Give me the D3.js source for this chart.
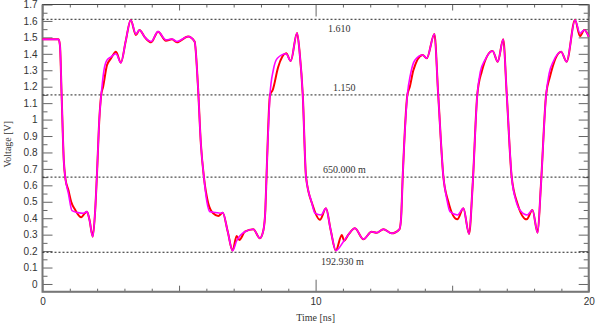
<!DOCTYPE html>
<html>
<head>
<meta charset="utf-8">
<script src="https://cdn.jsdelivr.net/npm/d3@7"></script>
<style>
  body { margin: 0; background: #fff; }
  svg { display: block; font-family: "Liberation Serif", "DejaVu Serif", serif; }
  .axis text { font-size: 10px; fill: #333; }
  .axis line { stroke: #666; }
  .label { font-size: 10px; fill: #333; }
</style>
</head>
<body>
<svg id="chart" width="596" height="325"></svg>
<script>
// time [ns] and voltage [V]
const redTime = [0, 0.59, 0.64, 0.70, 0.78, 0.84, 0.95, 1.05, 1.20, 1.42, 1.55, 1.63, 1.72, 1.84, 1.93, 2.0, 2.08, 2.15, 2.22, 2.36, 2.50, 2.69, 2.87, 3.05, 3.23, 3.42, 3.55, 3.75, 3.98, 4.23, 4.52, 4.74, 4.92, 5.33, 5.57, 5.69, 5.80, 5.91, 6.07, 6.25, 6.44, 6.60, 6.78, 6.96, 7.11, 7.21, 7.41, 7.72, 7.96, 8.09, 8.16, 8.21, 8.33, 8.43, 8.63, 8.92, 9.09, 9.32, 9.42, 9.53, 9.65, 9.89, 10.16, 10.38, 10.55, 10.74, 10.96, 11.04, 11.20, 11.44, 11.75, 12.05, 12.24, 12.48, 12.79, 13.07, 13.13, 13.19, 13.36, 13.45, 13.58, 13.92, 14.07, 14.35, 14.49, 14.68, 14.86, 15.19, 15.41, 15.62, 15.75, 15.92, 16.08, 16.48, 16.67, 16.87, 17.00, 17.18, 17.39, 17.73, 17.94, 18.13, 18.25, 18.44, 18.58, 18.99, 19.19, 19.50, 19.68, 19.84, 20.0]
const redVolt = [1.488, 1.488, 1.45, 1.15, 0.75, 0.64, 0.57, 0.50, 0.45, 0.406, 0.43, 0.44, 0.39, 0.288, 0.45, 0.69, 1.0, 1.15, 1.20, 1.33, 1.37, 1.413, 1.346, 1.48, 1.606, 1.515, 1.545, 1.50, 1.47, 1.535, 1.48, 1.488, 1.47, 1.505, 1.474, 1.21, 0.85, 0.65, 0.49, 0.43, 0.414, 0.434, 0.32, 0.203, 0.292, 0.268, 0.318, 0.333, 0.278, 0.328, 0.45, 0.69, 1.15, 1.18, 1.32, 1.403, 1.356, 1.527, 1.40, 1.15, 0.65, 0.48, 0.39, 0.46, 0.33, 0.203, 0.298, 0.263, 0.30, 0.339, 0.272, 0.318, 0.312, 0.333, 0.308, 0.333, 0.40, 0.653, 1.15, 1.20, 1.30, 1.393, 1.373, 1.52, 1.15, 0.65, 0.50, 0.393, 0.46, 0.304, 0.60, 1.15, 1.29, 1.417, 1.352, 1.488, 1.15, 0.65, 0.49, 0.393, 0.45, 0.312, 0.60, 1.15, 1.26, 1.413, 1.352, 1.606, 1.508, 1.545, 1.505]

const magentaTime = [0, 0.59, 0.64, 0.70, 0.78, 0.84, 0.95, 1.08, 1.30, 1.50, 1.63, 1.72, 1.84, 1.93, 2.0, 2.08, 2.15, 2.25, 2.36, 2.50, 2.69, 2.87, 3.05, 3.23, 3.42, 3.55, 3.75, 3.98, 4.23, 4.52, 4.74, 4.92, 5.33, 5.57, 5.69, 5.80, 5.91, 6.02, 6.13, 6.35, 6.50, 6.60, 6.78, 6.96, 7.11, 7.41, 7.72, 7.96, 8.09, 8.16, 8.21, 8.33, 8.45, 8.60, 8.92, 9.09, 9.32, 9.42, 9.53, 9.65, 9.85, 9.98, 10.20, 10.38, 10.55, 10.74, 11.04, 11.20, 11.44, 11.75, 12.05, 12.24, 12.48, 12.79, 13.07, 13.13, 13.19, 13.36, 13.48, 13.64, 13.92, 14.07, 14.35, 14.49, 14.68, 14.80, 14.92, 15.20, 15.41, 15.62, 15.75, 15.92, 16.03, 16.20, 16.48, 16.67, 16.87, 17.00, 17.18, 17.33, 17.48, 17.75, 17.94, 18.13, 18.25, 18.44, 18.55, 18.70, 18.99, 19.19, 19.50, 19.68, 19.84, 20.0]
const magentaVolt = [1.488, 1.488, 1.45, 1.15, 0.75, 0.64, 0.55, 0.446, 0.434, 0.43, 0.44, 0.39, 0.288, 0.45, 0.69, 1.0, 1.15, 1.30, 1.362, 1.38, 1.40, 1.346, 1.48, 1.606, 1.52, 1.545, 1.50, 1.475, 1.535, 1.485, 1.49, 1.475, 1.505, 1.474, 1.21, 0.85, 0.65, 0.50, 0.44, 0.435, 0.43, 0.434, 0.32, 0.203, 0.263, 0.318, 0.333, 0.278, 0.328, 0.45, 0.69, 1.15, 1.30, 1.373, 1.40, 1.356, 1.527, 1.40, 1.15, 0.65, 0.50, 0.43, 0.42, 0.46, 0.33, 0.203, 0.263, 0.30, 0.339, 0.272, 0.318, 0.312, 0.333, 0.308, 0.333, 0.40, 0.653, 1.15, 1.28, 1.362, 1.393, 1.373, 1.52, 1.15, 0.65, 0.52, 0.44, 0.42, 0.46, 0.304, 0.60, 1.15, 1.29, 1.362, 1.417, 1.352, 1.488, 1.15, 0.65, 0.51, 0.45, 0.42, 0.45, 0.312, 0.60, 1.15, 1.28, 1.352, 1.413, 1.352, 1.606, 1.525, 1.545, 1.505]

const markerValues = [1.61, 1.15, 0.65, 0.19293]
const markerLabels = ['1.610', '1.150', '650.000 m', '192.930 m']

const xLabelTicks = [0, 10, 20]
const yLabelTicks = d3.range(0, 1.71, 0.1)

const margin = { top: 4.5, right: 7.3, bottom: 33.3, left: 42.5 }
const svg = d3.select('#chart')
const width = +svg.attr('width') - margin.left - margin.right
const height = +svg.attr('height') - margin.top - margin.bottom

const chart = svg.append('g')
  .attr('transform', `translate(${margin.left}, ${margin.top})`)

const x = d3.scaleLinear().domain([0, 20]).range([0, width])
const y = d3.scaleLinear().domain([-0.047, 1.7]).range([height, 0])

// y ticks, inside on both sides
const yMinor = d3.range(0.05, 1.7, 0.1)
chart.append('g').classed('axis', true)
  .call(d3.axisLeft(y).tickValues(yLabelTicks).tickSize(-10).tickPadding(5)
    .tickFormat(d => d3.format('.2~f')(d)))
  .call(g => g.select('.domain').remove())
chart.append('g').classed('axis', true)
  .call(d3.axisLeft(y).tickValues(yMinor).tickSize(-5).tickFormat(''))
  .call(g => g.select('.domain').remove())
chart.append('g').classed('axis', true)
  .attr('transform', `translate(${width}, 0)`)
  .call(d3.axisRight(y).tickValues(yLabelTicks).tickSize(-10).tickFormat(''))
  .call(g => g.select('.domain').remove())
chart.append('g').classed('axis', true)
  .attr('transform', `translate(${width}, 0)`)
  .call(d3.axisRight(y).tickValues(yMinor).tickSize(-5).tickFormat(''))
  .call(g => g.select('.domain').remove())

// x ticks, inside top and bottom
const xMinor = d3.range(1, 20).filter(d => d % 5 !== 0)
const xMid = [5, 15]
const xAxes = [
  [d3.axisBottom, height, -12, xLabelTicks, true],
  [d3.axisBottom, height, -6, xMid, false],
  [d3.axisBottom, height, -3, xMinor, false],
  [d3.axisTop, 0, -12, xLabelTicks, false],
  [d3.axisTop, 0, -6, xMid, false],
  [d3.axisTop, 0, -3, xMinor, false]
]
xAxes.forEach(([axis, ty, size, vals, labels]) => {
  chart.append('g').classed('axis', true)
    .attr('transform', `translate(0, ${ty})`)
    .call(axis(x).tickValues(vals).tickSize(size).tickPadding(5)
      .tickFormat(labels ? d3.format('d') : ''))
    .call(g => g.select('.domain').remove())
    .call(g => g.selectAll('text').attr('y', 6))
})

// frame
chart.append('rect')
  .attr('width', width).attr('height', height)
  .attr('fill', 'none').attr('stroke', '#444').attr('stroke-width', 1)
chart.append('path')
  .attr('d', `M0,0V${height}H${width}V0`)
  .attr('fill', 'none').attr('stroke', '#777').attr('stroke-width', 2)

// marker lines
chart.selectAll('line.marker').data(markerValues)
  .enter().append('line')
    .classed('marker', true)
    .attr('x1', 0).attr('x2', width)
    .attr('y1', d => y(d)).attr('y2', d => y(d))
    .attr('stroke', '#222').attr('stroke-width', 1)
    .attr('stroke-dasharray', '2,2')

chart.selectAll('text.label').data(markerValues)
  .enter().append('text')
    .classed('label', true)
    .attr('text-anchor', 'middle')
    .attr('x', (d, i) => x(11.05) + (i === 0 ? -5 : i === 3 ? -2 : 0))
    .attr('y', d => y(d) + (d > 1.5 || d < 0.3 ? 12.5 : -4))
    .text((d, i) => markerLabels[i])

// traces
const line = d3.line()
  .x(d => x(d[0]))
  .y(d => y(d[1]))
  .curve(d3.curveMonotoneX)
const series = [
  { color: '#ff0000', w: 2, pts: d3.zip(redTime, redVolt) },
  { color: '#ff00ff', w: 1.6, pts: d3.zip(magentaTime, magentaVolt) }
]
chart.selectAll('path.trace').data(series)
  .enter().append('path')
    .classed('trace', true)
    .attr('fill', 'none')
    .attr('stroke', d => d.color)
    .attr('stroke-width', d => d.w)
    .attr('stroke-linejoin', 'round')
    .attr('d', d => line(d.pts))

// axis titles
svg.append('text').classed('label', true)
  .attr('text-anchor', 'middle')
  .attr('x', margin.left + x(10)).attr('y', 321)
  .text('Time [ns]')
svg.append('text').classed('label', true)
  .attr('text-anchor', 'middle')
  .attr('transform', `translate(11, ${margin.top + y(0.85)}) rotate(-90)`)
  .text('Voltage [V]')
</script>
</body>
</html>
